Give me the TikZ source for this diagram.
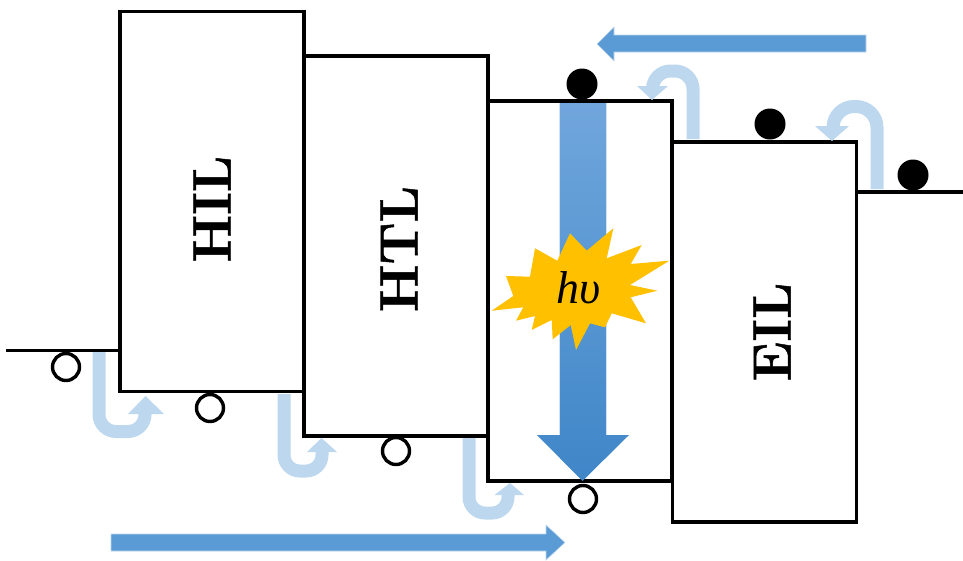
\documentclass[tikz,border=0pt]{standalone}
\usepackage{fontspec}
\newfontfamily\hvfont{Liberation Serif}
\newfontfamily\labfont{Latin Modern Roman}[BoldFeatures={FakeBold=0.9}]
\usetikzlibrary{arrows.meta}
\definecolor{flowblue}{HTML}{5B9BD5}
\definecolor{hopblue}{HTML}{BDD7EE}
\definecolor{burst}{HTML}{FFC000}
\definecolor{gradtop}{HTML}{70A6DC}
\definecolor{gradbot}{HTML}{3F86C8}
\tikzset{
  layer/.style={draw=black,line width=3.4pt,fill=white,rectangle,inner sep=0pt,outer sep=0pt,minimum width=184pt,minimum height=380pt},
  level/.style={draw=black,line width=3.4pt},
  electron/.style={circle,fill=black,draw=none,minimum size=31pt,inner sep=0pt},
  hole/.style={circle,fill=white,draw=black,line width=3.4pt,minimum size=27pt,inner sep=0pt},
  hop/.style={draw=hopblue,line width=13pt,rounded corners=#1},
  hophead/.style={fill=hopblue,draw=none},
  flow/.style={fill=flowblue,draw=hopblue,line width=0.6pt},
  lbl/.style={font=\labfont\fontsize{54}{54}\selectfont\bfseries,rotate=90,inner sep=0pt}
}
\begin{document}
\begin{tikzpicture}[x=1pt,y=-1pt]
\useasboundingbox (0,0) rectangle (963,560);
% energy levels
\coordinate (leftend) at (6,350.5);
\coordinate (lefttouch) at (120,350.5);
\coordinate (rightend) at (963,192);
\coordinate (righttouch) at (857,192);
\draw[level] (leftend) -- (lefttouch);
\draw[level] (righttouch) -- (rightend);
% layers
\node[layer] (hilbox) at (212,201.5) {};
\node[layer] (htlbox) at (396,246) {};
\node[layer] (emlbox) at (580,291) {};
\node[layer] (eilbox) at (764.5,332) {};
% vertical emission arrow
\shade[top color=gradtop,bottom color=gradbot,draw=none]
  (559,103) -- (606,103) -- (606,435) -- (629,435) -- (582.5,481) -- (537,435) -- (559,435) -- cycle;
\draw[hopblue!70!white,line width=0.6pt] (559,103) -- (559,435) (606,103) -- (606,435);
% horizontal flows
\path[flow] (866,35) -- (614,35) -- (614,27) -- (597,44) -- (614,61) -- (614,52) -- (866,52) -- cycle;
\path[flow] (111,534) -- (546,534) -- (546,525) -- (565,542.5) -- (546,560) -- (546,551) -- (111,551) -- cycle;
% hopping arrows, lower
\coordinate (a1s) at (99,352); \coordinate (a1e) at (145,412);
\draw[hop=17pt] (a1s) -- (99,431.5) -- (145,431.5) -- (a1e);
\fill[hophead] (145.5,396) -- (164,414) -- (128,414) -- cycle;
\coordinate (a2s) at (284,394); \coordinate (a2e) at (322,450);
\draw[hop=16pt] (a2s) -- (284,471) -- (322,471) -- (a2e);
\fill[hophead] (321.5,438) -- (337,452) -- (307,452) -- cycle;
\coordinate (a3s) at (469,438); \coordinate (a3e) at (508,493);
\draw[hop=16pt] (a3s) -- (469,513) -- (508,513) -- (a3e);
\fill[hophead] (510,483) -- (524,495) -- (494.5,495) -- cycle;
% hopping arrows, upper
\coordinate (b1s) at (693,139); \coordinate (b1e) at (652.5,88);
\draw[hop=18pt] (b1s) -- (693,71) -- (652.5,71) -- (b1e);
\fill[hophead] (652,100) -- (668,86) -- (637,86) -- cycle;
\coordinate (b2s) at (877,189); \coordinate (b2e) at (833,128);
\draw[hop=21pt] (b2s) -- (877,106.5) -- (833,106.5) -- (b2e);
\fill[hophead] (832,141) -- (849,126) -- (815,126) -- cycle;
% burst
\fill[burst] (613.3,228.3) -- (606.7,258.3) -- (641.7,245) -- (630.7,264) -- (669.3,260.7)
  -- (630,285) -- (657.3,290.7) -- (630.7,297.3) -- (646,323.3) -- (611.7,313.3)
  -- (605,327.3) -- (590,323.3) -- (576,350) -- (570.7,325) -- (552.7,339.3) -- (551.7,320)
  -- (531.7,330) -- (535,316) -- (516,320.7) -- (523.3,307.3) -- (491.7,310.7) -- (513.3,296)
  -- (506,276) -- (530,276.7) -- (535,248.3) -- (557.3,260.7) -- (570,233.3) -- (586.7,250.7) -- cycle;
\node[inner sep=0pt,font=\hvfont\itshape\fontsize{46}{46}\selectfont] (hv) at (579,288) {hυ};
% carriers
\node[electron] (e1) at (582,84) {};
\node[electron] (e2) at (770,124) {};
\node[electron] (e3) at (913,175) {};
\node[hole] (h1) at (66,367) {};
\node[hole] (h2) at (210,408) {};
\node[hole] (h3) at (396,451) {};
\node[hole] (h4) at (583,499) {};
% labels
\node[lbl] (hil) at (212,209) {HIL};
\node[lbl] (htl) at (399,249) {HTL};
\node[lbl] (eil) at (772,332) {EIL};
\end{tikzpicture}
\end{document}
